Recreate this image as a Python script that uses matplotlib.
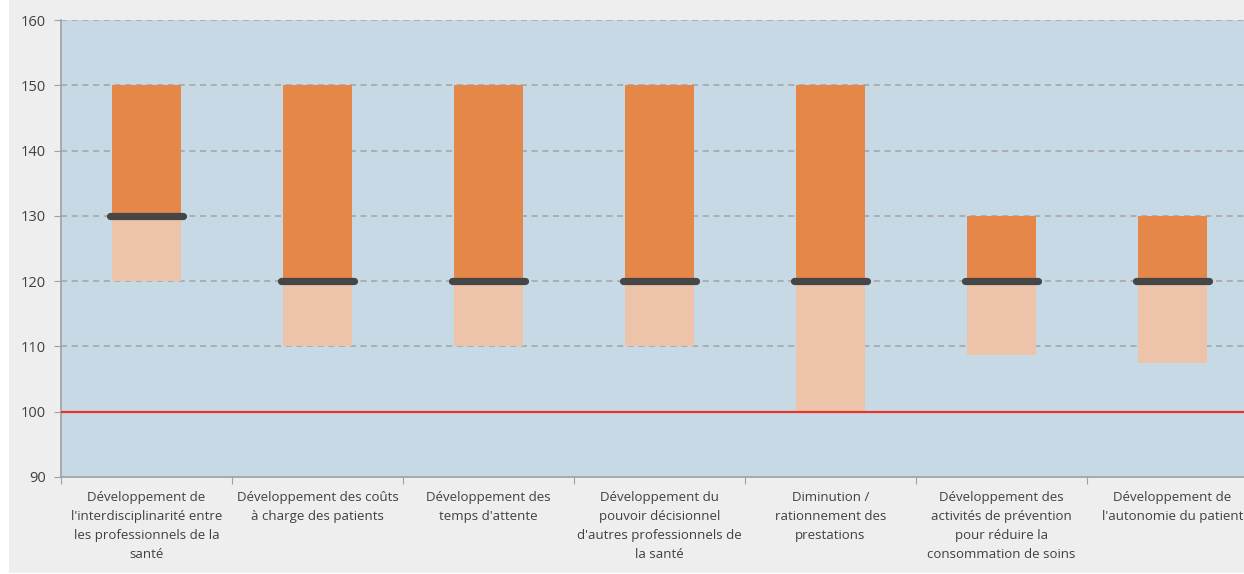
import matplotlib.pyplot as plt
import matplotlib.patches as mpatches
import numpy as np

plt.rcParams['font.family'] = ['Open Sans', 'DejaVu Sans']

labels = [
    "Développement de\nl'interdisciplinarité entre\nles professionnels de la\nsanté",
    "Développement des coûts\nà charge des patients",
    "Développement des\ntemps d'attente",
    "Développement du\npouvoir décisionnel\nd'autres professionnels de\nla santé",
    "Diminution /\nrationnement des\nprestations",
    "Développement des\nactivités de prévention\npour réduire la\nconsommation de soins",
    "Développement de\nl'autonomie du patient",
]
low = [120, 110, 110, 110, 100, 108.7, 107.5]
median = [130, 120, 120, 120, 120, 120, 120]
high = [150, 150, 150, 150, 150, 130, 130]
yticks = [90, 100, 110, 120, 130, 140, 150, 160]

fig = plt.figure(figsize=(12.44, 5.74), dpi=100, facecolor='white')
fig.patches.append(mpatches.Rectangle((9 / 1244, 1 / 574), 1, 1, transform=fig.transFigure,
                                      facecolor='#eeeeee', edgecolor='none', zorder=-10))
# plot area runs a little past the right edge of the figure
ax = fig.add_axes([61 / 1244, 97 / 574, 1197 / 1244, 457 / 574])
ax.set_facecolor('#c7d9e5')

x = np.arange(len(labels))
w = 0.405
ax.bar(x, np.subtract(median, low), bottom=low, width=w, color='#edc4aa', zorder=2)
ax.bar(x, np.subtract(high, median), bottom=median, width=w, color='#e6874a', zorder=2)
for xi, m in zip(x, median):
    ax.plot([xi - w / 2 - 0.01, xi + w / 2 + 0.01], [m, m], color='#464646', lw=5.2,
            solid_capstyle='round', zorder=4)

ax.axhline(100, color='#e8352a', lw=1.6, zorder=3)
for t in yticks[1:]:
    if t != 100:
        ax.axhline(t, color='#a3a3a3', lw=1.1, ls=(0, (4, 3)), zorder=1)

ax.set_ylim(90, 160)
ax.set_xlim(-0.5, len(labels) - 0.5)
ax.set_yticks(yticks)
ax.tick_params(axis='y', colors='#a0a0a0', labelcolor='#404040', labelsize=10.5, length=5, pad=6)

ax.set_xticks(np.arange(len(labels) + 1) - 0.5)
ax.set_xticklabels([])
ax.tick_params(axis='x', which='major', colors='#a0a0a0', length=5)
ax.set_xticks(x, minor=True)
ax.set_xticklabels(labels, minor=True, fontsize=9.5, color='#404040', linespacing=1.6)
ax.tick_params(axis='x', which='minor', length=0, pad=10)

for s in ['top', 'right']:
    ax.spines[s].set_visible(False)
for s in ['left', 'bottom']:
    ax.spines[s].set_color('#a0a0a0')
    ax.spines[s].set_linewidth(1.2)

fig.savefig('out.png', dpi=100)
